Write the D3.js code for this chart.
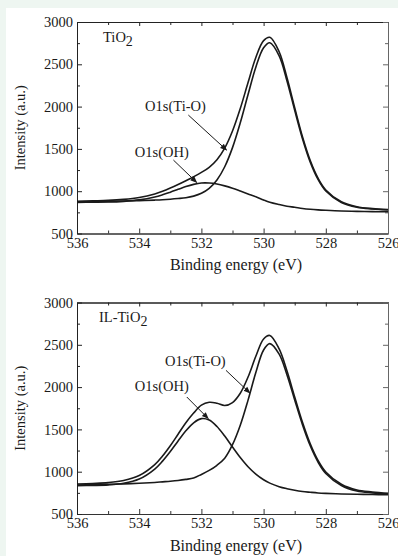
<!DOCTYPE html>
<html>
<head>
<meta charset="utf-8">
<script src="https://cdn.jsdelivr.net/npm/d3@7"></script>
<style>
  body { margin: 0; background: #eef6f1; }
  svg { display: block; }
  text { font-family: "Liberation Serif", "Times New Roman", serif; fill: #1a1a1a; }
</style>
</head>
<body>
<div id="wrapper"></div>
<script>
// binding energies (eV) shared by both spectra
const energy = [536, 535.5, 535, 534.5, 534, 533.5, 533.25, 533, 532.75, 532.5, 532.25, 532,
    531.75, 531.5, 531.25, 531, 530.75, 530.5, 530.25, 530, 529.8, 529.5, 529.25, 529,
    528.75, 528.5, 528.25, 528, 527.5, 527, 526.5, 526];

// TiO2 panel
const tio2Envelope = [881, 886, 891, 903, 926, 968, 999, 1037, 1079, 1124, 1171, 1222,
    1283, 1373, 1510, 1712, 1977, 2284, 2581, 2780, 2819, 2648, 2343, 1987,
    1644, 1362, 1154, 1015, 875, 817, 794, 783];
const tio2TiO = [875, 878, 880, 884, 889, 895, 899, 905, 913, 923, 942, 975,
    1034, 1133, 1289, 1515, 1808, 2143, 2466, 2695, 2754, 2600, 2306, 1956,
    1621, 1344, 1140, 1003, 867, 810, 789, 778];
const tio2OH = [868, 870, 872, 880, 897, 932, 958, 989, 1022, 1055, 1081, 1097,
    1097, 1085, 1063, 1035, 1002, 968, 935, 896, 869, 842, 823, 810,
    796, 786, 779, 774, 766, 762, 758, 757];

// IL-TiO2 panel
const ilEnvelope = [854, 861, 871, 896, 954, 1083, 1185, 1307, 1443, 1578, 1693, 1787,
    1820, 1809, 1782, 1817, 1927, 2119, 2364, 2569, 2610, 2451, 2192, 1883,
    1584, 1330, 1134, 997, 851, 783, 760, 745];
const ilTiO = [843, 847, 850, 856, 863, 873, 880, 887, 896, 909, 926, 968,
    1015, 1076, 1159, 1319, 1549, 1846, 2173, 2439, 2514, 2389, 2147, 1848,
    1556, 1306, 1114, 979, 837, 771, 750, 737];
const ilOH = [835, 838, 844, 863, 913, 1031, 1125, 1238, 1363, 1483, 1578, 1627,
    1610, 1534, 1421, 1292, 1168, 1059, 972, 905, 865, 823, 799, 780,
    766, 757, 749, 744, 737, 733, 730, 727];

const xTicks = [536, 534, 532, 530, 528, 526];
const xMinorTicks = [535, 533, 531, 529, 527];
const yTicks = [500, 1000, 1500, 2000, 2500, 3000];
const yMinorTicks = [750, 1250, 1750, 2250, 2750];

const panels = [
    { title: "TiO", sub: "2", top: 22,
      series: [tio2Envelope, tio2TiO, tio2OH],
      notes: [
        { text: "O1s(Ti-O)", lx: 533.81, ly: 1947, x1: 532.42, y1: 1900, x2: 531.19, y2: 1486 },
        { text: "O1s(OH)", lx: 534.14, ly: 1403, x1: 532.90, y1: 1368, x2: 532.15, y2: 1103 }
      ] },
    { title: "IL-TiO", sub: "2", top: 302.5,
      series: [ilEnvelope, ilTiO, ilOH],
      notes: [
        { text: "O1s(Ti-O)", lx: 533.17, ly: 2245, x1: 531.21, y1: 2198, x2: 530.44, y2: 1930 },
        { text: "O1s(OH)", lx: 534.14, ly: 1950, x1: 532.47, y1: 1883, x2: 531.78, y2: 1628 }
      ] }
];

const dimension = { width: 398, height: 556, left: 77, plotWidth: 311, plotHeight: 211.5 };

const svg = d3.select("#wrapper").append("svg")
    .attr("width", dimension.width)
    .attr("height", dimension.height);

// white page area
svg.append("rect")
    .attr("x", 6).attr("y", 8)
    .attr("width", dimension.width - 6).attr("height", dimension.height - 8)
    .attr("fill", "#ffffff");

const defs = svg.append("defs");
defs.append("marker")
    .attr("id", "arrow")
    .attr("viewBox", "0 0 10 10")
    .attr("refX", 9).attr("refY", 5)
    .attr("markerWidth", 7).attr("markerHeight", 7)
    .attr("markerUnits", "userSpaceOnUse")
    .attr("orient", "auto")
    .append("path")
    .attr("d", "M0,1 L10,5 L0,9 z")
    .attr("fill", "#1a1a1a");

const xScale = d3.scaleLinear().domain([536, 526]).range([0, dimension.plotWidth]);
const yScale = d3.scaleLinear().domain([500, 3000]).range([dimension.plotHeight, 0]);

const line = d3.line()
    .x((d, i) => xScale(energy[i]))
    .y(d => yScale(d))
    .curve(d3.curveCatmullRom.alpha(0.5));

function styleAxis(g, color) {
    g.attr("font-family", "Liberation Serif, Times New Roman, serif");
    g.select(".domain").attr("stroke", color).attr("stroke-width", 1);
    g.selectAll(".tick line").attr("stroke", color);
    g.selectAll(".tick text")
        .attr("font-size", "14.5px")
        .attr("fill", "#1a1a1a");
}

panels.forEach(p => {
    const g = svg.append("g").attr("transform", `translate(${dimension.left},${p.top})`);

    // bottom axis with labels
    g.append("g")
        .attr("transform", `translate(0,${dimension.plotHeight})`)
        .call(d3.axisBottom(xScale).tickValues(xTicks).tickSize(-5).tickSizeOuter(0).tickPadding(4).tickFormat(d3.format("d")))
        .call(a => styleAxis(a, "#333"));
    g.append("g")
        .attr("transform", `translate(0,${dimension.plotHeight})`)
        .call(d3.axisBottom(xScale).tickValues(xMinorTicks).tickSize(-3).tickSizeOuter(0).tickFormat(""))
        .call(a => styleAxis(a, "#333"));

    // top axis, ticks only
    g.append("g")
        .call(d3.axisTop(xScale).tickValues(xTicks).tickSize(-4).tickSizeOuter(0).tickFormat(""))
        .call(a => styleAxis(a, "#222"));
    g.append("g")
        .call(d3.axisTop(xScale).tickValues(xMinorTicks).tickSize(-3).tickSizeOuter(0).tickFormat(""))
        .call(a => styleAxis(a, "#222"));

    // left axis with labels
    g.append("g")
        .call(d3.axisLeft(yScale).tickValues(yTicks).tickSize(-5).tickSizeOuter(0).tickPadding(4).tickFormat(d3.format("d")))
        .call(a => styleAxis(a, "#222"));
    g.append("g")
        .call(d3.axisLeft(yScale).tickValues(yMinorTicks).tickSize(-3).tickSizeOuter(0).tickFormat(""))
        .call(a => styleAxis(a, "#222"));

    // right axis, ticks only
    g.append("g")
        .attr("transform", `translate(${dimension.plotWidth},0)`)
        .call(d3.axisRight(yScale).tickValues(yTicks).tickSize(-5).tickSizeOuter(0).tickFormat(""))
        .call(a => styleAxis(a, "#666"));
    g.append("g")
        .attr("transform", `translate(${dimension.plotWidth},0)`)
        .call(d3.axisRight(yScale).tickValues(yMinorTicks).tickSize(-3).tickSizeOuter(0).tickFormat(""))
        .call(a => styleAxis(a, "#666"));

    // spectra
    p.series.forEach(s => {
        g.append("path")
            .attr("d", line(s))
            .attr("fill", "none")
            .attr("stroke", "#1a1a1a")
            .attr("stroke-width", 1.6);
    });

    // sample name
    const t = g.append("text")
        .attr("x", 26 - (p.title.length > 3 ? 4 : 0))
        .attr("y", 19.7)
        .attr("font-size", "14.5px");
    t.append("tspan").text(p.title);
    t.append("tspan").attr("dy", 4).attr("font-size", "14px").text(p.sub);

    // annotations
    p.notes.forEach(n => {
        g.append("text")
            .attr("x", xScale(n.lx))
            .attr("y", yScale(n.ly))
            .attr("font-size", "14.5px")
            .text(n.text);
        g.append("line")
            .attr("x1", xScale(n.x1)).attr("y1", yScale(n.y1))
            .attr("x2", xScale(n.x2)).attr("y2", yScale(n.y2))
            .attr("stroke", "#1a1a1a")
            .attr("stroke-width", 1)
            .attr("marker-end", "url(#arrow)");
    });

    // axis titles
    g.append("text")
        .attr("x", 159)
        .attr("y", dimension.plotHeight + 36.5)
        .attr("text-anchor", "middle")
        .attr("font-size", "16px")
        .text("Binding energy (eV)");
    g.append("text")
        .attr("transform", `translate(-52,${dimension.plotHeight / 2}) rotate(-90)`)
        .attr("text-anchor", "middle")
        .attr("font-size", "14.5px")
        .text("Intensity (a.u.)");
});
</script>
</body>
</html>
